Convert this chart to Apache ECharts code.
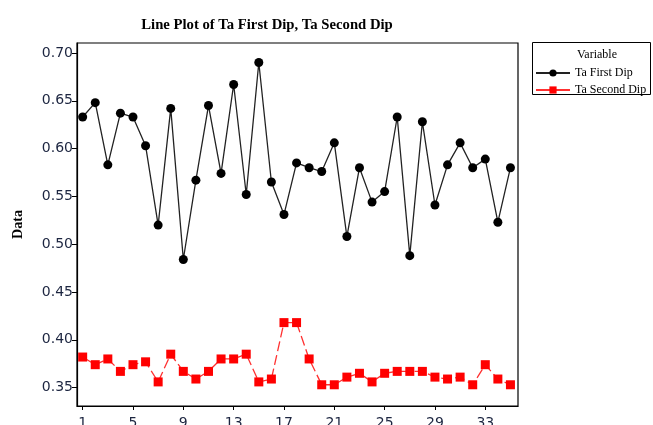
<!DOCTYPE html>
<html>
<head>
<meta charset="utf-8">
<script src="https://cdn.jsdelivr.net/npm/echarts@6/dist/echarts.min.js"></script>
<style>
html,body{margin:0;padding:0;background:#fff;}
#c{width:653px;height:425px;}
</style>
</head>
<body>
<div id="c"></div>
<script>
const indices = [1,2,3,4,5,6,7,8,9,10,11,12,13,14,15,16,17,18,19,20,21,22,23,24,25,26,27,28,29,30,31,32,33,34,35];
const firstDip = [0.633,0.648,0.583,0.637,0.633,0.603,0.520,0.642,0.484,0.567,0.645,0.574,0.667,0.552,0.690,0.565,0.531,0.585,0.580,0.576,0.606,0.508,0.580,0.544,0.555,0.633,0.488,0.628,0.541,0.583,0.606,0.580,0.589,0.523,0.580];
const secondDip = [0.382,0.374,0.380,0.367,0.374,0.377,0.356,0.385,0.367,0.359,0.367,0.380,0.380,0.385,0.356,0.359,0.418,0.418,0.380,0.353,0.353,0.361,0.365,0.356,0.365,0.367,0.367,0.367,0.361,0.359,0.361,0.353,0.374,0.359,0.353];
const xTicks = [1,5,9,13,17,21,25,29,33];
const yTicks = [0.35,0.40,0.45,0.50,0.55,0.60,0.65,0.70];
const seriesNames = ['Ta First Dip','Ta Second Dip'];

const chart = echarts.init(document.getElementById('c'), null, {renderer:'canvas'});
const labelColor = '#1c2540';
chart.setOption({
  animation:false,
  backgroundColor:'#ffffff',
  title:{
    text:'Line Plot of Ta First Dip, Ta Second Dip',
    left:262, top:13, textAlign:'center',
    textStyle:{fontFamily:'Liberation Serif', fontWeight:'bold', fontSize:14.7, color:'#000'}
  },
  grid:{left:77, top:43, right:135, bottom:19, containLabel:false, outerBoundsMode:'none'},
  xAxis:{
    type:'value', min:0.55, max:35.6,
    axisLine:{show:true, onZero:false, lineStyle:{color:'#000', width:1.2}},
    axisTick:{show:true, customValues:xTicks, length:4, lineStyle:{color:'#000'}},
    axisLabel:{customValues:xTicks, margin:10, fontFamily:'DejaVu Sans', fontSize:14, color:labelColor},
    splitLine:{show:false}
  },
  yAxis:{
    type:'value', min:0.3308, max:0.7104,
    name:'Data', nameLocation:'middle', nameGap:52, nameRotate:90,
    nameTextStyle:{fontFamily:'Liberation Serif', fontWeight:'bold', fontSize:14, color:'#000'},
    axisLine:{show:true, onZero:false, lineStyle:{color:'#000', width:1.2}},
    axisTick:{show:true, customValues:yTicks, length:5, lineStyle:{color:'#000'}},
    axisLabel:{customValues:yTicks, margin:4, fontFamily:'DejaVu Sans', fontSize:14, color:labelColor,
      formatter:v=>v.toFixed(2)},
    splitLine:{show:false}
  },
  legend:{
    orient:'vertical', left:535, top:67, padding:0, itemWidth:34, itemHeight:9, itemGap:5,
    textStyle:{fontFamily:'Liberation Serif', fontSize:12, color:'#000'},
    lineStyle:{type:'solid'},
    data:seriesNames
  },
  graphic:[
    {type:'rect', shape:{x:532.5, y:42.5, width:118, height:52}, style:{fill:'none', stroke:'#000', lineWidth:1}},
    {type:'text', x:597, y:55, style:{text:'Variable', fontFamily:'Liberation Serif', fontSize:12, fill:'#000', textAlign:'center', textVerticalAlign:'middle'}},
    {type:'rect', shape:{x:77, y:43, width:441, height:363}, style:{fill:'none', stroke:'#000', lineWidth:1.2}, silent:true, z:100}
  ],
  series:[
    {
      name:seriesNames[0], type:'line',
      data:indices.map((x,i)=>[x, firstDip[i]]),
      symbol:'circle', symbolSize:9,
      itemStyle:{color:'#000'},
      lineStyle:{color:'#222', width:1.3}
    },
    {
      name:seriesNames[1], type:'line',
      data:indices.map((x,i)=>[x, secondDip[i]]),
      symbol:'rect', symbolSize:9,
      itemStyle:{color:'#ff0000'},
      lineStyle:{color:'#ff3030', width:1.3, type:[10,4]}
    }
  ]
});
</script>
</body>
</html>
